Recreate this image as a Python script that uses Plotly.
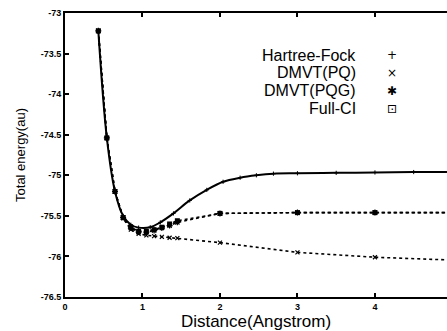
import plotly.graph_objects as go

# ---- data ----
hf_x = [0.43, 0.54, 0.645, 0.75, 0.85, 0.95, 1.10, 1.23, 1.40, 1.61, 1.83, 2.04, 2.26, 2.47, 2.69, 3.0, 3.5, 4.0, 4.5, 5.0]
hf_y = [-73.22, -74.54, -75.20, -75.50, -75.61, -75.645, -75.64, -75.58, -75.47, -75.31, -75.18, -75.08,
        -75.03, -75.00, -74.98, -74.975, -74.97, -74.965, -74.96, -74.96]

pq_x = [0.43, 0.54, 0.645, 0.75, 0.85, 0.95, 1.05, 1.15, 1.25, 1.35, 1.45, 2.0, 3.0, 4.0, 5.0]
pq_y = [-73.22, -74.54, -75.20, -75.53, -75.67, -75.72, -75.74, -75.75, -75.76, -75.77, -75.775, -75.83, -75.95, -76.01, -76.045]

pqg_x = [0.43, 0.54, 0.645, 0.75, 0.85, 0.95, 1.05, 1.15, 1.25, 1.35, 1.45, 2.0, 3.0, 4.0, 5.0]
pqg_y = [-73.22, -74.54, -75.20, -75.52, -75.65, -75.70, -75.70, -75.68, -75.65, -75.62, -75.58, -75.47, -75.46, -75.46, -75.46]

fci_x = [0.43, 0.54, 0.645, 0.75, 0.85, 0.95, 1.05, 1.15, 1.25, 1.35, 1.45, 2.0, 3.0, 4.0, 5.0]
fci_y = [-73.22, -74.54, -75.20, -75.52, -75.64, -75.69, -75.69, -75.67, -75.64, -75.60, -75.56, -75.47, -75.46, -75.46, -75.46]

legend_labels = ["Hartree-Fock", "DMVT(PQ)", "DMVT(PQG)", "Full-CI"]
legend_symbols = ["+", "×", "✱", "⊡"]

x_tickvals = [0, 1, 2, 3, 4]
x_ticktext = ["0", "1", "2", "3", "4"]
y_tickvals = [-73, -73.5, -74, -74.5, -75, -75.5, -76, -76.5]
y_ticktext = ["-73", "-73.5", "-74", "-74.5", "-75", "-75.5", "-76", "-76.5"]

FONT = "Liberation Sans, Arial, sans-serif"

fig = go.Figure()
fig.add_trace(go.Scatter(x=hf_x, y=hf_y, mode="lines+markers", line=dict(color="black", width=2, shape="spline"),
                         marker=dict(symbol="cross-thin-open", size=3, color="black", line=dict(width=1, color="black")),
                         name="Hartree-Fock"))
fig.add_trace(go.Scatter(x=pq_x, y=pq_y, mode="lines+markers", line=dict(color="black", width=1.6, dash="dot"),
                         marker=dict(symbol="x-thin-open", size=4, color="black", line=dict(width=1.2, color="black")),
                         name="DMVT(PQ)"))
fig.add_trace(go.Scatter(x=pqg_x, y=pqg_y, mode="lines+markers", line=dict(color="black", width=1.6, dash="dot"),
                         marker=dict(symbol="asterisk-open", size=5, color="black", line=dict(width=1.2, color="black")),
                         name="DMVT(PQG)"))
fig.add_trace(go.Scatter(x=fci_x, y=fci_y, mode="lines+markers", line=dict(color="black", width=1.6, dash="dot"),
                         marker=dict(symbol="square", size=5, color="black"),
                         name="Full-CI"))

# legend drawn as text (label right-aligned, symbol to its right)
row_y = [0.851, 0.789, 0.727, 0.663]
for lab, sym, yy in zip(legend_labels, legend_symbols, row_y):
    fig.add_annotation(x=0.767, y=yy, xref="paper", yref="paper", text=lab, showarrow=False,
                       xanchor="right", yanchor="middle", font=dict(family=FONT, size=16, color="black"))
    fig.add_annotation(x=0.857, y=yy, xref="paper", yref="paper", text=sym, showarrow=False,
                       xanchor="center", yanchor="middle", font=dict(family="DejaVu Sans", size=12, color="black"))

fig.update_layout(
    width=447, height=331,
    margin=dict(l=65, r=0, t=13, b=34),
    paper_bgcolor="white", plot_bgcolor="white",
    showlegend=False,
    font=dict(family=FONT, color="black"),
)
fig.update_xaxes(range=[0, 4.93], tickvals=x_tickvals, ticktext=x_ticktext,
                 showline=True, linecolor="black", linewidth=2, mirror="ticks",
                 ticks="inside", ticklen=4, tickwidth=1.5, tickcolor="black",
                 showgrid=False, zeroline=False,
                 tickfont=dict(family=FONT, size=9, color="black", weight="bold"),
                 title=dict(text="Distance(Angstrom)", font=dict(family=FONT, size=17), standoff=2),
                 automargin=False)
fig.update_yaxes(range=[-76.5, -73], tickvals=y_tickvals, ticktext=y_ticktext,
                 showline=True, linecolor="black", linewidth=2, mirror=False,
                 ticks="inside", ticklen=4, tickwidth=1.5, tickcolor="black",
                 showgrid=False, zeroline=False,
                 tickfont=dict(family=FONT, size=9, color="black", weight="bold"),
                 title=dict(text="Total energy(au)", font=dict(family=FONT, size=13), standoff=12),
                 automargin=False)

fig.write_html("out.html")
